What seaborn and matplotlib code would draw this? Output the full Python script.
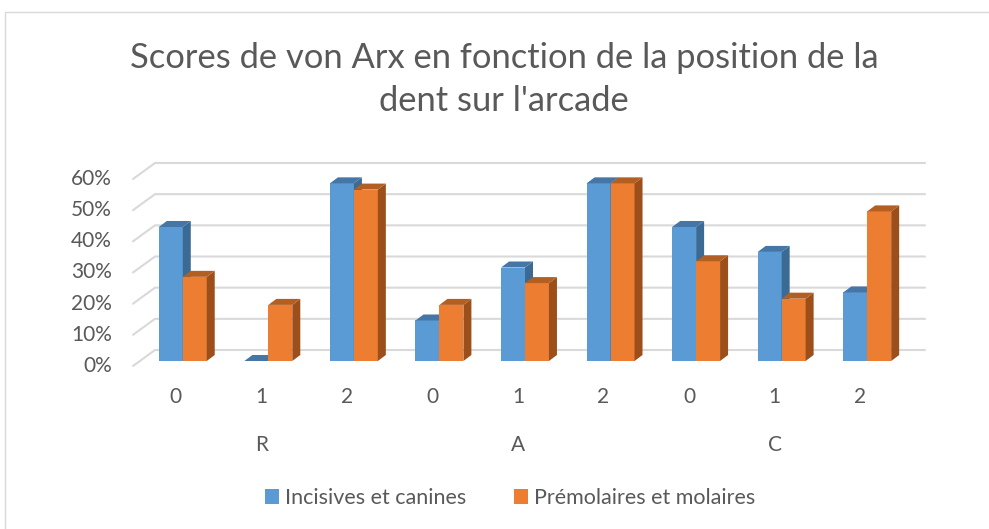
import numpy as np
import pandas as pd
import matplotlib.pyplot as plt
import seaborn as sns
from matplotlib.patches import Polygon, Rectangle

# values
positions = ["R", "A", "C"]
scores = ["0", "1", "2"]
incisives = [0.43, 0.00, 0.57, 0.13, 0.30, 0.57, 0.43, 0.35, 0.22]
premolaires = [0.27, 0.18, 0.55, 0.18, 0.25, 0.57, 0.32, 0.20, 0.48]
series = ["Incisives et canines", "Prémolaires et molaires"]
y_ticks = [0, 0.1, 0.2, 0.3, 0.4, 0.5, 0.6]

front_cols = ["#5B9BD5", "#ED7D31"]
side_cols = ["#3B6A94", "#9C4F1B"]
top_cols = ["#4576A6", "#B45F22"]
grey = "#595959"
font = ["Lato", "DejaVu Sans"]

cats = [f"{p}-{s}" for p in positions for s in scores]
df = pd.DataFrame({
    "cat": cats * 2,
    "serie": [series[0]] * 9 + [series[1]] * 9,
    "val": incisives + premolaires,
})

sns.set_theme(style="white")
plt.rcParams["font.family"] = font

W, H = 989, 529
fig = plt.figure(figsize=(W / 100, H / 100), dpi=100)
# bar-plane axes: 0% at y=361 px, 60% at y=174 px
ax = fig.add_axes([140 / W, (H - 361) / H, 770 / W, 187 / H])
ax.patch.set_alpha(0)

sns.barplot(data=df, x="cat", y="val", hue="serie", order=cats, hue_order=series,
            palette=front_cols, saturation=1, width=0.56, ax=ax, legend=False)
ax.set_xlim(-0.5, 8.5)
ax.set_ylim(0, 0.6)
for s in ax.spines.values():
    s.set_visible(False)
ax.set_xticks([])
ax.set_yticks([])
ax.set_xlabel("")
ax.set_ylabel("")

# pixel -> data unit conversions
px_x = 770 / 9.0
px_y = 187 / 0.6
def off(dx, dy):
    return dx / px_x, dy / px_y

# 3D depth of each bar
bdx, bdy = off(8, 6)
for k, cont in enumerate(ax.containers):
    for p in cont:
        x0 = p.get_x()
        x1 = x0 + p.get_width()
        h = p.get_height()
        z = 2 + 2 * k
        p.set_zorder(z)
        p.set_edgecolor("none")
        side = Polygon([(x1, 0), (x1, h), (x1 + bdx, h + bdy), (x1 + bdx, bdy)],
                       closed=True, facecolor=side_cols[k], edgecolor="none",
                       zorder=z + 0.5, clip_on=False)
        top = Polygon([(x0, h), (x1, h), (x1 + bdx, h + bdy), (x0 + bdx, h + bdy)],
                      closed=True, facecolor=top_cols[k], edgecolor="none",
                      zorder=z + 0.5, clip_on=False)
        ax.add_patch(side)
        ax.add_patch(top)

# back wall gridlines with the left diagonal
fdx, fdy = off(-7, -5)
wdx, wdy = off(15, 11)
for t in y_ticks:
    ax.plot([-0.5 + fdx, -0.5 + wdx, 8.5 + wdx], [t + fdy, t + wdy, t + wdy],
            color="#D9D9D9", lw=1.5, zorder=0, clip_on=False)
    ax.text(-0.5 + fdx - 21 / px_x, t + fdy, f"{int(round(t * 100))}%",
            ha="right", va="center", fontsize=15, color=grey, family=font)

# category labels on the front plane
for i, c in enumerate(cats):
    ax.text(i + fdx, -36 / px_y, c.split("-")[1], ha="center", va="center",
            fontsize=15, color=grey, family=font, clip_on=False)
for j, p in enumerate(positions):
    ax.text(3 * j + 1 + fdx, -84 / px_y, p, ha="center", va="center",
            fontsize=15, color=grey, family=font, clip_on=False)

# title
fig.text(504 / W, 1 - 58 / H, "Scores de von Arx en fonction de la position de la",
         ha="center", va="center", fontsize=24.8, color=grey, family=font)
fig.text(504 / W, 1 - 101 / H, "dent sur l'arcade",
         ha="center", va="center", fontsize=24.8, color=grey, family=font)

# legend
handles = [Rectangle((0, 0), 1, 1, facecolor=c, edgecolor="none") for c in front_cols]
fig.legend(handles, series, loc="center", bbox_to_anchor=(510 / W, 1 - 498 / H),
           ncol=2, frameon=False, handlelength=0.65, handleheight=0.65,
           handletextpad=0.3, columnspacing=2.2, labelcolor=grey,
           prop={"family": font, "size": 15.5})

# chart area border
fig.add_artist(Rectangle((5 / W, -0.01), 1.0, 1 - 12 / H + 0.01, transform=fig.transFigure,
                         facecolor="none", edgecolor="#D9D9D9", lw=1))

fig.savefig("out.png", dpi=100)
